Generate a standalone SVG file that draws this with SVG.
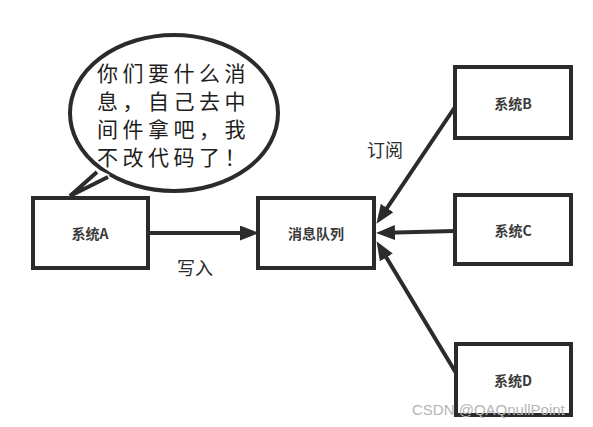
<svg xmlns="http://www.w3.org/2000/svg" width="593" height="427" viewBox="0 0 593 427">
<style>
.box{fill:#fff;stroke:#2b2b2b;stroke-width:4}
.lbl{font-family:"Noto Sans CJK SC","Liberation Serif",sans-serif;font-size:14px;font-weight:bold;fill:#3a3a3a;text-anchor:middle;dominant-baseline:central}
.edge{stroke:#2b2b2b;stroke-width:4;fill:none;marker-end:url(#ah)}
.note{font-family:"Noto Sans CJK SC",sans-serif;font-size:18px;fill:#2b2b2b}
.bub{font-family:"Noto Sans CJK SC",sans-serif;font-size:21px;fill:#1e1e1e;letter-spacing:4.5px}
</style>
<defs>
<marker id="ah" markerUnits="userSpaceOnUse" markerWidth="20" markerHeight="16" refX="8" refY="7.5" orient="auto">
<path d="M0,0 L19,7.5 L0,15 z" fill="#2b2b2b"/>
</marker>
</defs>
<rect width="593" height="427" fill="#fff"/>
<g id="bubble">
<ellipse cx="174" cy="113" rx="104" ry="78" fill="#fff" stroke="#2b2b2b" stroke-width="4"/>
<path d="M95,168 L72,194 L110,175 z" fill="#fff"/>
<path d="M97,172 L70,196 L108,177" fill="none" stroke="#2b2b2b" stroke-width="4"/>
<text class="bub" x="97" y="81">你们要什么消</text>
<text class="bub" x="97" y="109">息，自己去中</text>
<text class="bub" x="97" y="137">间件拿吧，我</text>
<text class="bub" x="97" y="165">不改代码了！</text>
</g>
<g id="connectors">
<line class="edge" x1="148" y1="233" x2="248" y2="233"/>
<line class="edge" x1="455" y1="107" x2="382.6" y2="214.7"/>
<line class="edge" x1="455" y1="231" x2="387" y2="232.7"/>
<line class="edge" x1="456" y1="373" x2="382.2" y2="250.6"/>
<text class="note" x="177" y="275">写入</text>
<text class="note" x="367" y="157">订阅</text>
</g>
<g id="sysA"><rect class="box" x="33" y="198" width="115" height="70"/><text class="lbl" x="90" y="233">系统A</text></g>
<g id="mq"><rect class="box" x="258" y="198" width="116" height="70"/><text class="lbl" x="316" y="233">消息队列</text></g>
<g id="sysB"><rect class="box" x="455" y="67" width="116" height="71"/><text class="lbl" x="513" y="103">系统B</text></g>
<g id="sysC"><rect class="box" x="455" y="195" width="116" height="69"/><text class="lbl" x="513" y="230">系统C</text></g>
<g id="sysD"><rect class="box" x="456" y="344" width="115" height="71"/><text class="lbl" x="513" y="380">系统D</text></g>
<text x="412" y="415" font-family="Liberation Sans,Arial,sans-serif" font-size="15" fill="#b5b5b5">CSDN @QAQnullPoint</text>
</svg>
